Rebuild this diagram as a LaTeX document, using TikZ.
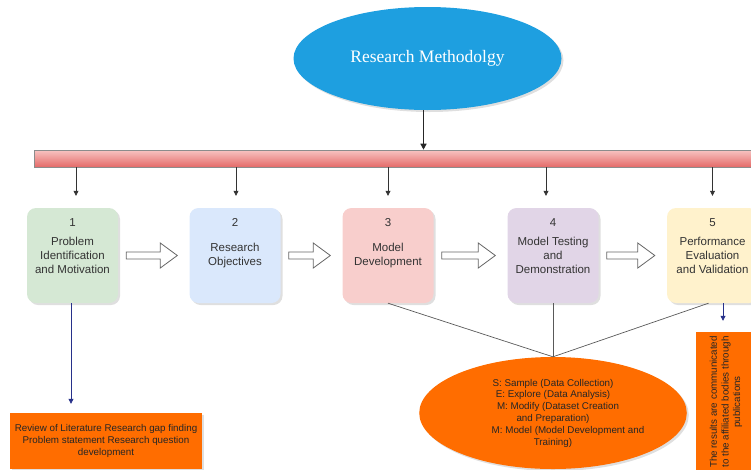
\documentclass[tikz,border=0pt]{standalone}
\usepackage{fontspec}
\setmainfont{Liberation Sans}
\newfontfamily\titlefont{Liberation Serif}
\usetikzlibrary{calc,arrows.meta,shadows,shapes.geometric}

\definecolor{skyblue}{HTML}{1E9FE0}
\definecolor{deeporange}{HTML}{FF6D00}
\definecolor{stepgreen}{HTML}{D5E8D4}
\definecolor{stepblue}{HTML}{DAE8FC}
\definecolor{stepred}{HTML}{F8CECC}
\definecolor{steppurple}{HTML}{E1D5E7}
\definecolor{stepyellow}{HTML}{FFF2CC}
\definecolor{bartop}{HTML}{F8C4C2}
\definecolor{barbottom}{HTML}{E46A68}
\definecolor{inkgray}{HTML}{333333}
\definecolor{navy}{HTML}{27318A}

\tikzset{
  softshadow/.style={drop shadow={opacity=0.25,shadow xshift=2pt,shadow yshift=-2pt}},
  stepbox/.style={rectangle, rounded corners=9pt, minimum width=91pt, minimum height=95pt,
    draw=none, softshadow, text=inkgray, align=center, font=\fontsize{11.5}{14}\selectfont},
  stepnum/.style={text=inkgray, font=\fontsize{11.5}{14}\selectfont},
  feed/.style={draw=black!80, line width=0.7pt, -{Triangle[length=5pt,width=5pt]}},
  outflow/.style={draw=navy, line width=0.8pt, -{Triangle[length=5pt,width=5pt]}},
  joinline/.style={draw=black!65, line width=0.7pt},
  blockarr/.style={draw=black!60, fill=white, line width=0.8pt, line join=miter},
  notebox/.style={rectangle, fill=deeporange, draw=none, softshadow, align=center,
    text=black!85, font=\fontsize{9.8}{11.6}\selectfont},
}

% hollow block arrow between two neighbouring steps
\newcommand\flowarrow[2]{%
  \draw[blockarr] ($(#1.east)+(8,3.5)$) -- ($(#2.west)+(-29,3.5)$) -- ($(#2.west)+(-29,12.5)$)
    -- ($(#2.west)+(-12,0)$) -- ($(#2.west)+(-29,-12.5)$) -- ($(#2.west)+(-29,-3.5)$)
    -- ($(#1.east)+(8,-3.5)$) -- cycle;}

\begin{document}
\begin{tikzpicture}[x=1pt,y=-1pt]
\useasboundingbox (0,0) rectangle (751,469);
\clip (0,0) rectangle (751,469);

% title
\node[ellipse, fill=skyblue, minimum width=268pt, minimum height=103pt, softshadow,
      text=white, font=\titlefont\fontsize{17.5}{20}\selectfont] (title) at (427.5,58.5)
      {\raisebox{-2pt}{Research Methodolgy}};

% distribution bar
\node[rectangle, draw=black!45, line width=0.6pt, top color=bartop, bottom color=barbottom,
      minimum width=740pt, minimum height=17pt, inner sep=0pt] (bar) at (404,158.5) {};

\draw[draw=black!85, line width=1.3pt, -{Triangle[length=6pt,width=6pt]}]
  ([xshift=-4pt]title.south) -- ([xshift=-4pt]title.south |- bar.north);

% steps
\node[stepbox, fill=stepgreen]  (s1) at (72.5,255.5)  {Problem\\Identification\\and Motivation};
\node[stepbox, fill=stepblue]   (s2) at (235,255.5)   {Research\\Objectives};
\node[stepbox, fill=stepred]    (s3) at (388,255.5)   {Model\\Development};
\node[stepbox, fill=steppurple] (s4) at (553,255.5)   {Model Testing\\and\\Demonstration};
\node[stepbox, fill=stepyellow] (s5) at (712.5,255.5) {Performance\\Evaluation\\and Validation};

\node[stepnum] (n1) at ($(s1.north)+(0,15)$) {1};
\node[stepnum] (n2) at ($(s2.north)+(0,15)$) {2};
\node[stepnum] (n3) at ($(s3.north)+(0,15)$) {3};
\node[stepnum] (n4) at ($(s4.north)+(0,15)$) {4};
\node[stepnum] (n5) at ($(s5.north)+(0,15)$) {5};

% feeds from the bar
\draw[feed] ([xshift=3.5pt]bar.south -| s1.north) -- ([xshift=3.5pt,yshift=12pt]s1.north);
\draw[feed] ([xshift=1pt]bar.south -| s2.north) -- ([xshift=1pt,yshift=12pt]s2.north);
\draw[feed] (bar.south -| s3.north) -- ([yshift=12pt]s3.north);
\draw[feed] ([xshift=-7pt]bar.south -| s4.north) -- ([xshift=-7pt,yshift=12pt]s4.north);
\draw[feed] (bar.south -| s5.north) -- ([yshift=12pt]s5.north);

% flow between steps
\flowarrow{s1}{s2}
\flowarrow{s2}{s3}
\flowarrow{s3}{s4}
\flowarrow{s4}{s5}

% SEMMA ellipse
\node[ellipse, fill=deeporange, minimum width=214pt, minimum height=112pt, softshadow,
      align=center, text=black!85, font=\fontsize{9.8}{11.8}\selectfont] (semma) at (553,413)
      {S: Sample (Data Collection)\\E: Explore (Data Analysis)\\
       \hspace*{10pt}M: Modify (Dataset Creation\\and Preparation)\\
       \hspace*{30pt}M: Model (Model Development and\\Training)};

\draw[joinline] (s3.south) -- (semma.north);
\draw[joinline] (s4.south) -- (semma.north);
\draw[joinline] ([xshift=-4pt]s5.south) -- (semma.north);

% outcome notes
\node[notebox, minimum width=192pt, minimum height=56pt] (review) at (106,441)
  {Review of Literature Research gap finding\\Problem statement Research question\\development};
\node[notebox, rotate=90, minimum width=140pt, minimum height=60pt] (publish) at (726,402)
  {The results are communicated\\to the affiliated bodies through\\publications};

\draw[outflow] ([xshift=-1.5pt]s1.south) -- ([xshift=-1.5pt,yshift=9pt]s1.south |- review.north);
\draw[outflow] ([xshift=10.5pt]s5.south) -- ([xshift=10.5pt,yshift=11pt]s5.south |- publish.east);
\end{tikzpicture}
\end{document}
